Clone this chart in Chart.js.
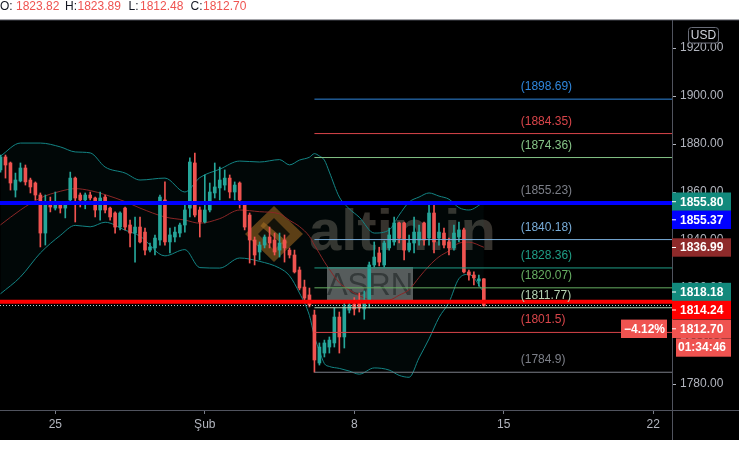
<!DOCTYPE html>
<html><head><meta charset="utf-8">
<script src="https://cdn.jsdelivr.net/npm/chart.js@4.4.1/dist/chart.umd.min.js"></script>
<style>html,body{margin:0;padding:0;background:#fff;overflow:hidden}canvas{display:block}</style>
</head><body>
<canvas id="c" width="739" height="461"></canvas>
<script>
// ---------- DATA ----------
const opens = [1869.2,1874.6,1872.1,1860.8,1864.6,1870,1865,1863.75,1858.75,1842.9,
1855.4,1853.3,1855.4,1853.3,1856.7,1865.8,1858.75,1856.7,1858.75,1857.5,
1852.5,1857.9,1853.3,1851.25,1845.4,1853.3,1846.25,1842.9,1845.4,1843.3,
1835.8,1836.7,1840,1856.7,1839.2,1841.25,1842.9,1846.25,1853.3,1872.1,
1852.5,1847.5,1852.5,1859.6,1861.7,1862.9,1865.8,1860,1863.75,1854.6,
1850.4,1840,1835,1837.9,1841.25,1840,1835.8,1840,1835.8,1833.75,
1827.5,1820.4,1817.1,1808.75,1788.75,1792.9,1795.4,1797.1,1807.9,1799.6,
1810.8,1813.3,1814.2,1811.25,1814.2,1829.6,1834.6,1829.6,1836.7,1839.2,
1847.1,1847.1,1835.8,1838.75,1840,1847.1,1840.8,1851.25,1840.8,1842.9,
1839.2,1836.7,1841.25,1844.2,1826.7,1825.4,1822.9,1823.82];
const highs = [1875.4,1875.4,1872.5,1867.9,1872.1,1871.25,1865.8,1864.2,1859.6,1858.75,
1857.9,1860,1855.8,1855.8,1868.3,1866.25,1859.6,1859.6,1860,1857.9,
1860,1858.75,1853.75,1851.7,1851.7,1853.75,1848.3,1849.6,1849.6,1845,
1838.75,1842.1,1858.75,1864.2,1845,1845.4,1847.1,1854.6,1874.2,1876.25,
1853.75,1867.1,1863.75,1872.1,1870.4,1869.2,1867.1,1864.2,1864.2,1855.4,
1851.25,1841.25,1839.2,1842.1,1845.4,1842.9,1842.9,1842.1,1836.7,1835.8,
1828.75,1823.3,1820,1810.8,1797.1,1798.3,1799.6,1811.7,1810,1813.75,
1814.2,1816,1817.9,1818.75,1830.8,1839.2,1837,1839.6,1845,1849.6,
1847.5,1847.5,1842.1,1849.6,1846.25,1847.5,1855.23,1854.6,1847.1,1845,
1840.8,1846.25,1847.5,1845,1827.5,1826.7,1825.4,1823.89];
const lows = [1868.3,1865.8,1860.8,1857.9,1864.2,1862.9,1859.6,1856.7,1837.1,1837.9,
1851.7,1852.5,1851.25,1849.2,1855.8,1847.5,1853.75,1853,1856.7,1849.6,
1848.3,1851.25,1848.3,1842.9,1844.2,1844.2,1837.1,1830.8,1838.75,1833.75,
1835,1833.75,1837.9,1837.9,1834.6,1839.2,1841.25,1843.3,1849.6,1849.6,
1841.25,1847.1,1851.7,1857.5,1856.7,1860.8,1857.5,1856.7,1853.3,1844.2,
1830.4,1829.6,1831.7,1836.7,1836.7,1833.75,1832.9,1830.8,1832.5,1826.25,
1819.2,1814.2,1812.1,1784.9,1787.9,1791.25,1792.9,1795.4,1792.9,1795,
1809.6,1808.75,1810,1807,1811.7,1828.75,1829.2,1828.75,1835.8,1837.9,
1838.75,1831.7,1835,1834.6,1837.9,1837.9,1837.9,1834.6,1837.9,1836.7,
1833.75,1835.8,1839.2,1826.25,1823.3,1821.25,1820.8,1812.48];
const closes = [1874.6,1871.25,1863.75,1865,1870,1864.2,1862.1,1858.75,1842.9,1854.6,
1853.75,1855.4,1853.3,1854.6,1865.8,1857.5,1856.7,1858.75,1857.5,1852.5,
1857.5,1852.5,1849.6,1845.4,1851.25,1845.4,1842.9,1845.4,1839.2,1835.8,
1837.1,1840.8,1857.9,1839.2,1842.1,1843.3,1846.25,1852.5,1872.5,1850.4,
1847.5,1852.5,1860,1862.1,1865,1865.8,1860,1862.9,1856.7,1845.4,
1840,1833.75,1837.9,1841.25,1838.75,1835,1838.75,1836.7,1833.75,1826.7,
1820,1815.8,1812.9,1790,1795.4,1797.1,1798.3,1807.9,1799.6,1812.1,
1812.9,1811.25,1811.7,1813.75,1829.6,1832.9,1830.8,1838.75,1842.1,1847.1,
1840.8,1835.8,1838.75,1843.3,1843.3,1840,1851.25,1839.2,1843.3,1837.9,
1836.7,1842.9,1844.2,1826.7,1825.4,1824.2,1823.8,1812.70];

// Bollinger bands, read at sampled bar indices
const bbIdx    = [0,4,8,12,15,18,21,25,28,33,37,40,44,48,52,56,58,60,62,63,64,65,66,68,70,72,75,78,80,82,84,86,88,90,92,94,97];
const bbUpper  = [1875,1880.4,1880.4,1878.8,1876.7,1876.3,1870.4,1867.9,1865,1865.8,1860,1866,1869.5,1872.9,1872.5,1873.5,1871.3,1873.3,1874.5,1876,1875,1873.3,1868.3,1857.9,1853,1849.5,1842.9,1844.2,1850.4,1855.8,1857.9,1859.6,1858.3,1857,1853.5,1852.5,1855.8];
const bbMiddle = [1846.3,1852.5,1857.5,1860.3,1861.4,1860.6,1858.9,1856,1853.3,1849.6,1848.3,1847,1848.9,1852.5,1851.8,1850.9,1848.2,1845.6,1841.5,1837.9,1834.4,1830.9,1827.8,1822.2,1819.2,1816.8,1814.8,1815,1817,1819.3,1824.4,1829.2,1833,1835.5,1838.7,1839.1,1836.99];
const bbLower  = [1817.6,1824.6,1834.6,1841.9,1846.1,1845.5,1847.4,1844.1,1841.6,1833.4,1836,1828.5,1828.3,1832.5,1831.1,1828.3,1825.1,1817.9,1808.5,1799.8,1793.8,1788.5,1787.3,1786.5,1785.4,1784.1,1786.7,1785.8,1783.6,1782.8,1790.9,1798.8,1807.7,1814,1823.9,1825.7,1818.18];

// Fibonacci levels
const fibStartIdx = 63;
const fibLevels = [1784.9,1801.5,1811.77,1820.07,1828.36,1840.18,1855.23,1874.36,1884.35,1898.69];
const fibLabels = ['(1784.9)','(1801.5)','(1811.77)','(1820.07)','(1828.36)','(1840.18)','(1855.23)','(1874.36)','(1884.35)','(1898.69)'];

// Horizontal lines & last values
const blueLevel = 1855.37;
const redLevel = 1814.24;
const lastPrice = 1812.70;
const bandLastLabels = ['1855.80','1836.99','1818.18'];
const changeText = '\u22124.12%';
const countdownText = '01:34:46';
const headerKeys = ['O:','H:','L:','C:'];
const headerVals = ['1823.82','1823.89','1812.48','1812.70'];

// Axis ticks
const dateTickIdx = [11,41,71,101,131];
const dateTickLabels = ['25','\u015eub','8','15','22'];
const priceTicks = [1780,1800,1820,1840,1860,1880,1900,1920];

// ---------- STYLE ----------
const FONT = '"Liberation Sans", Arial, Helvetica, sans-serif';
const UP = '#26a69a', DOWN = '#ef5350';
const fibColors = ['#7c7f88','#d9454a','#b6d3b4','#66ad62','#1f9e86','#78acd8','#7c7f88','#85c487','#d9454a','#2f86dc'];
const X_MIN = -0.1, X_MAX = 134.76;
const Y_MIN = 1769.17, Y_MAX = 1931.67;

const idx = opens.map((_, i) => i);
const candleColors = idx.map(i => closes[i] >= opens[i] ? UP : DOWN);
const hline = (y) => [{x: X_MIN, y}, {x: X_MAX, y}];

const datasets = [];
datasets.push({type:'line', data: hline(lastPrice), borderColor:'rgba(215,215,215,0.95)', borderWidth:1, borderDash:[1,2], pointRadius:0, fill:false, order:1});
datasets.push({type:'line', data: hline(redLevel), borderColor:'#ff0000', borderWidth:4, pointRadius:0, fill:false, order:2});
datasets.push({type:'line', data: hline(blueLevel), borderColor:'#0000ff', borderWidth:4, pointRadius:0, fill:false, order:3});
fibLevels.forEach((lv, k) => datasets.push({type:'line', data:[{x: fibStartIdx, y: lv}, {x: X_MAX, y: lv}], borderColor: fibColors[k], borderWidth:1, pointRadius:0, fill:false, order:4}));
datasets.push({type:'bar', data: idx.map(i => ({x:i, y:[opens[i], closes[i]]})), backgroundColor: candleColors, barThickness:3, grouped:false, minBarLength:1, order:5});
datasets.push({type:'bar', data: idx.map(i => ({x:i, y:[lows[i], highs[i]]})), backgroundColor: candleColors, barThickness:1, grouped:false, order:6});
datasets.push({type:'line', data: bbIdx.map((x,k) => ({x, y: bbMiddle[k]})), borderColor:'#8a2626', borderWidth:1, pointRadius:0, fill:false, cubicInterpolationMode:'monotone', order:7});
datasets.push({type:'line', data: bbIdx.map((x,k) => ({x, y: bbUpper[k]})), borderColor:'#138484', borderWidth:1, pointRadius:0, fill:false, cubicInterpolationMode:'monotone', order:8});
datasets.push({type:'line', data: bbIdx.map((x,k) => ({x, y: bbLower[k]})), borderColor:'#138484', borderWidth:1, pointRadius:0, fill:'-1', backgroundColor:'rgba(25,135,135,0.05)', cubicInterpolationMode:'monotone', order:9});

const bgPlugin = {
  id: 'bg',
  beforeDraw(chart) {
    const ctx = chart.ctx;
    ctx.save();
    ctx.fillStyle = '#ffffff'; ctx.fillRect(0, 0, 739, 461);
    ctx.fillStyle = '#000000'; ctx.fillRect(0, 20, 739, 420);
    ctx.fillStyle = '#4a4d57'; ctx.fillRect(0, 19.5, 739, 1);
    ctx.fillStyle = '#50535e';
    ctx.fillRect(0, 410, 739, 1);
    ctx.fillRect(672, 20, 1, 420);
    // header
    ctx.font = '12px ' + FONT;
    ctx.textBaseline = 'middle';
    const kx = [0, 65, 128.5, 190.5], vx = [16, 77.5, 140, 203];
    headerKeys.forEach((k, i) => {
      ctx.fillStyle = '#131722'; ctx.fillText(k, kx[i], 7);
      ctx.fillStyle = '#ef5350'; ctx.fillText(headerVals[i], vx[i], 7);
    });
    ctx.restore();
  },
  beforeDatasetsDraw(chart) {
    const ctx = chart.ctx;
    ctx.save();
    // watermark logo
    ctx.fillStyle = 'rgba(175,110,30,0.55)';
    ctx.beginPath(); ctx.moveTo(274,206); ctx.lineTo(303,234); ctx.lineTo(274,262); ctx.lineTo(245,234); ctx.closePath(); ctx.fill();
    ctx.fillStyle = 'rgba(0,0,0,0.8)';
    ctx.beginPath(); ctx.moveTo(274,218); ctx.lineTo(290,234); ctx.lineTo(274,250); ctx.lineTo(258,234); ctx.closePath(); ctx.fill();
    ctx.strokeStyle = 'rgba(175,110,30,0.6)'; ctx.lineWidth = 5;
    ctx.beginPath(); ctx.moveTo(262,224); ctx.lineTo(286,244); ctx.stroke();
    ctx.font = 'bold 58px ' + FONT;
    ctx.textBaseline = 'alphabetic';
    ctx.fillStyle = 'rgba(120,110,100,0.45)';
    ctx.fillText('altin.in', 309, 250);
    // ASRN box
    ctx.fillStyle = 'rgba(150,150,150,0.6)';
    ctx.fillRect(327, 267, 86, 35);
    ctx.fillStyle = 'rgba(50,50,50,0.9)';
    ctx.font = '31px ' + FONT;
    ctx.textAlign = 'center'; ctx.textBaseline = 'middle';
    ctx.fillText('ASRN', 370, 286);
    ctx.restore();
  },
  afterDraw(chart) {
    const ctx = chart.ctx;
    const ys = chart.scales.y;
    const xs = chart.scales.x;
    ctx.save();
    // fib labels
    ctx.font = '12px ' + FONT;
    ctx.textBaseline = 'middle'; ctx.textAlign = 'left';
    const lx = xs.getPixelForValue(104.4);
    fibLevels.forEach((lv, k) => {
      ctx.fillStyle = fibColors[k];
      ctx.fillText(fibLabels[k], lx, ys.getPixelForValue(lv) - 12.3);
    });
    // price badges on the axis
    const badge = (text, cy, bg, x0, tick) => {
      ctx.fillStyle = bg; ctx.fillRect(x0, cy - 9.2, 731 - x0, 18.4);
      if (tick) { ctx.fillStyle = '#ffffff'; ctx.fillRect(672, cy - 0.5, 4, 1); }
      ctx.fillStyle = '#ffffff'; ctx.font = 'bold 12px ' + FONT;
      ctx.textAlign = 'left'; ctx.textBaseline = 'middle';
      ctx.fillText(text, x0 === 672 ? 680 : 678, cy + 0.5);
    };
    badge(bandLastLabels[0], 201.7, '#12897c', 672, true);
    badge(blueLevel.toFixed(2), 219.8, '#0000ff', 672, true);
    badge(bandLastLabels[1], 247.5, '#8e2a2a', 672, true);
    badge(bandLastLabels[2], 292, '#12897c', 672, true);
    badge(redLevel.toFixed(2), 310, '#ff0000', 672, true);
    badge(lastPrice.toFixed(2), 328.8, '#ef5350', 672, true);
    badge(countdownText, 347.5, '#ef5350', 676, false);
    // change pill
    ctx.fillStyle = '#ef5350'; ctx.fillRect(621, 319.6, 46, 18.4);
    ctx.fillStyle = '#ffffff'; ctx.font = 'bold 12px ' + FONT;
    ctx.textAlign = 'right'; ctx.fillText(changeText, 665, 329.3);
    // USD box
    ctx.fillStyle = '#000000';
    ctx.strokeStyle = '#6a6d78'; ctx.lineWidth = 1;
    ctx.beginPath();
    if (ctx.roundRect) ctx.roundRect(688.5, 27.5, 30, 15.5, 3); else ctx.rect(688.5, 27.5, 30, 15.5);
    ctx.fill(); ctx.stroke();
    ctx.fillStyle = '#d1d4dc'; ctx.font = '12px ' + FONT;
    ctx.textAlign = 'center'; ctx.textBaseline = 'middle';
    ctx.fillText('USD', 703.5, 35.5);
    ctx.restore();
  }
};

new Chart(document.getElementById('c'), {
  type: 'bar',
  data: { datasets },
  options: {
    responsive: false,
    animation: false,
    events: [],
    layout: { padding: { top: 20, bottom: 21, left: 0, right: 0 } },
    plugins: { legend: { display: false }, tooltip: { enabled: false } },
    scales: {
      x: {
        type: 'linear', min: X_MIN, max: X_MAX, offset: false, bounds: 'data',
        afterBuildTicks: s => { s.ticks = dateTickIdx.map(v => ({ value: v })); },
        afterFit: s => { s.height = 30; },
        ticks: { autoSkip: false, maxRotation: 0, padding: 3, color: '#b2b5be', font: { size: 12, family: FONT },
                 callback: v => { const k = dateTickIdx.indexOf(v); return k >= 0 ? dateTickLabels[k] : ''; } },
        grid: { offset: false, drawOnChartArea: false, drawTicks: true, tickLength: 4, color: '#787b86' },
        border: { display: true, color: '#50535e' }
      },
      y: {
        type: 'linear', position: 'right', min: Y_MIN, max: Y_MAX, bounds: 'data',
        afterBuildTicks: s => { s.ticks = priceTicks.map(v => ({ value: v })); },
        afterFit: s => { s.width = 67; },
        ticks: { padding: 4, color: '#b2b5be', font: { size: 12, family: FONT }, callback: v => Number(v).toFixed(2) },
        grid: { offset: false, drawOnChartArea: false, drawTicks: true, tickLength: 4, color: '#b2b5be' },
        border: { display: true, color: '#50535e' }
      }
    }
  },
  plugins: [bgPlugin]
});
</script>
</body></html>
